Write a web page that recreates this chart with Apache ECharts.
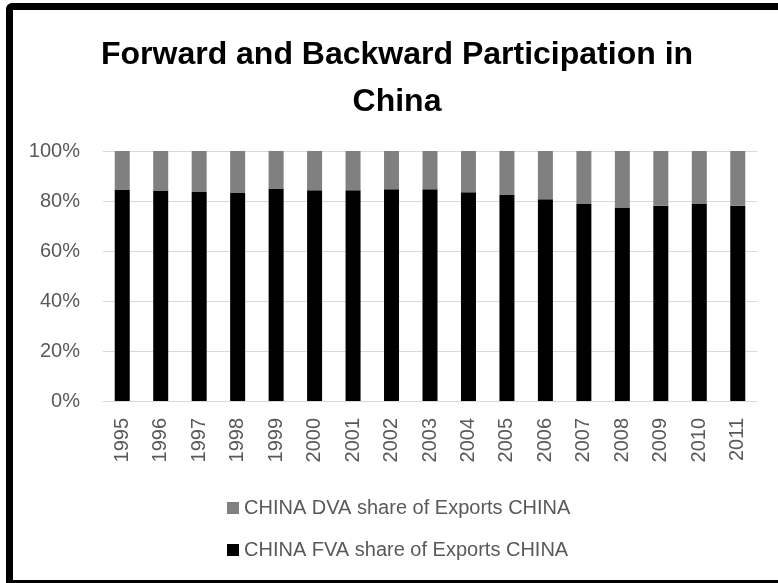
<!DOCTYPE html>
<html>
<head>
<meta charset="utf-8">
<script src="https://cdn.jsdelivr.net/npm/echarts@6/dist/echarts.min.js"></script>
<style>
    html, body {
        margin: 0;
        padding: 0;
        background: #fff;
        overflow: hidden;
    }

    .chart-container {
        position: absolute;
        left: 0;
        top: 0;
        width: 778px;
        height: 583px;
    }

    /* heavy frame round the chart, cut off on the right as in the picture */
    .frame {
        position: absolute;
        left: 6px;
        top: 3px;
        width: 820px;
        height: 570px;
        border: 7px solid #000;
        border-radius: 6px 0 0 0;
        pointer-events: none;
    }
</style>
</head>
<body>
<div id="chart" class="chart-container"></div>
<div class="frame"></div>
<script>
    const years = ['1995', '1996', '1997', '1998', '1999', '2000', '2001', '2002', '2003',
        '2004', '2005', '2006', '2007', '2008', '2009', '2010', '2011'];

    // shares in percent
    const fvaShare = [84.6, 84.2, 83.6, 83.2, 85.0, 84.3, 84.3, 84.7, 84.7,
        83.5, 82.4, 80.7, 79.0, 77.2, 78.1, 79.0, 78.1];
    const dvaShare = [15.4, 15.8, 16.4, 16.8, 15.0, 15.7, 15.7, 15.3, 15.3,
        16.5, 17.6, 19.3, 21.0, 22.8, 21.9, 21.0, 21.9];

    const yTicks = [0, 20, 40, 60, 80, 100];

    const fvaName = 'CHINA FVA share of Exports CHINA';
    const dvaName = 'CHINA DVA share of Exports CHINA';

    const font = '"Liberation Sans", Arial, sans-serif';
    const textGrey = '#595959';

    const chart = echarts.init(document.getElementById('chart'));

    chart.setOption({
        animation: false,
        textStyle: {
            fontFamily: font
        },
        title: {
            text: 'Forward and Backward Participation in\nChina',
            left: 392,
            top: 27,
            textAlign: 'center',
            textStyle: {
                fontFamily: font,
                fontSize: 32,
                fontWeight: 'bold',
                color: '#000',
                lineHeight: 47
            }
        },
        grid: {
            left: 103,
            right: 21,
            top: 151,
            bottom: 182
        },
        xAxis: {
            type: 'category',
            data: years,
            axisLine: {
                lineStyle: {
                    color: '#d9d9d9',
                    width: 1
                }
            },
            axisTick: {
                show: false
            },
            axisLabel: {
                rotate: 90,
                margin: 17,
                fontSize: 20,
                color: textGrey,
                fontFamily: font
            }
        },
        yAxis: {
            type: 'value',
            min: yTicks[0],
            max: yTicks[yTicks.length - 1],
            interval: yTicks[1] - yTicks[0],
            axisLine: {
                show: false
            },
            axisTick: {
                show: false
            },
            splitLine: {
                lineStyle: {
                    color: '#d9d9d9',
                    width: 1
                }
            },
            axisLabel: {
                formatter: '{value}%',
                margin: 23,
                fontSize: 20,
                color: textGrey,
                fontFamily: font
            }
        },
        legend: {
            orient: 'vertical',
            left: 222,
            top: 493,
            itemWidth: 12,
            itemHeight: 12,
            itemGap: 22,
            icon: 'rect',
            data: [dvaName, fvaName],
            textStyle: {
                fontSize: 20,
                color: textGrey,
                fontFamily: font
            }
        },
        series: [
            {
                name: fvaName,
                type: 'bar',
                stack: 'share',
                data: fvaShare,
                barWidth: 15,
                itemStyle: {
                    color: '#000'
                }
            },
            {
                name: dvaName,
                type: 'bar',
                stack: 'share',
                data: dvaShare,
                barWidth: 15,
                itemStyle: {
                    color: '#808080'
                }
            }
        ]
    });
</script>
</body>
</html>
